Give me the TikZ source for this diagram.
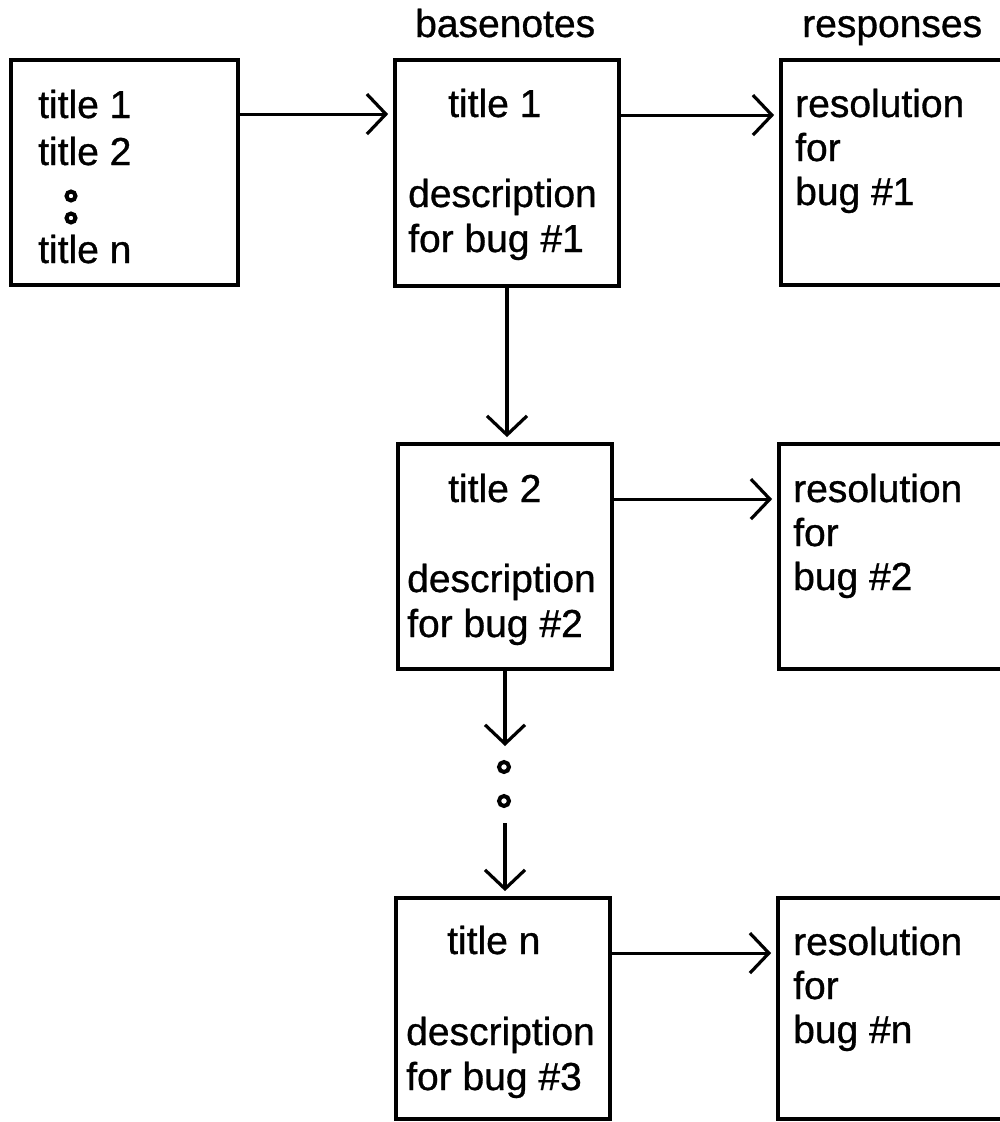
\documentclass[tikz,border=0pt]{standalone}
\usepackage{fontspec}
\setmainfont{Liberation Sans}
\newfontfamily\scanfont{Liberation Sans}[FakeBold=0.8]
\usetikzlibrary{arrows.meta}
\begin{document}
\begin{tikzpicture}[x=1pt,y=-1pt,
  box/.style={draw,line width=3.8pt,rectangle,inner sep=0pt},
  txt/.style={anchor=base west,inner sep=0pt,font=\scanfont\fontsize{39}{45}\selectfont},
  arr/.style={line width=3.2pt,-{Straight Barb[length=19pt,width=40pt]},shorten >=5pt},
  ring/.style={draw,circle,line width=4pt,minimum size=10pt,inner sep=0pt}]
\useasboundingbox (0,0) rectangle (1000,1122);
\clip (0,0) rectangle (1000,1122);
\fill[white] (0,0) rectangle (1000,1122);

% boxes
\node[box,minimum width=227pt,minimum height=225pt] (L)  at (124.5,172.5) {};
\node[box,minimum width=224pt,minimum height=226pt] (B1) at (507,173) {};
\node[box,minimum width=259pt,minimum height=225pt] (R1) at (910.5,172.5) {};
\node[box,minimum width=214pt,minimum height=225pt] (B2) at (505,556.5) {};
\node[box,minimum width=261pt,minimum height=225pt] (R2) at (909.5,556.5) {};
\node[box,minimum width=214pt,minimum height=221pt] (B3) at (503,1008.5) {};
\node[box,minimum width=262pt,minimum height=221pt] (R3) at (909,1008.5) {};

% headers
\node[txt] (h1) at (415,37) {basenotes};
\node[txt] (h2) at (802,37) {responses};

% left box text
\node[txt] (l1) at (38,118) {title 1};
\node[txt] (l2) at (38,165) {title 2};
\node[ring,minimum size=9pt] (ld1) at (71,196) {};
\node[ring,minimum size=9pt] (ld2) at (71,218) {};
\node[txt] (l3) at (38,263) {title n};

% basenote texts
\node[txt] (b1a) at (448,117) {title 1};
\node[txt] (b1b) at (408,207) {description};
\node[txt] (b1c) at (408,252) {for bug \#1};
\node[txt] (b2a) at (448,502) {title 2};
\node[txt] (b2b) at (407,592) {description};
\node[txt] (b2c) at (407,637) {for bug \#2};
\node[txt] (b3a) at (447,954) {title n};
\node[txt] (b3b) at (406,1045) {description};
\node[txt] (b3c) at (406,1090) {for bug \#3};

% response texts
\node[txt] (r1a) at (795,117) {resolution};
\node[txt] (r1b) at (795,161) {for};
\node[txt] (r1c) at (795,205) {bug \#1};
\node[txt] (r2a) at (793,502) {resolution};
\node[txt] (r2b) at (793,546) {for};
\node[txt] (r2c) at (793,590) {bug \#2};
\node[txt] (r3a) at (793,955) {resolution};
\node[txt] (r3b) at (793,999) {for};
\node[txt] (r3c) at (793,1043) {bug \#n};

% dots between B2 and B3
\coordinate (d1) at (505,746);
\node[ring] (c1) at (504,767) {};
\node[ring] (c2) at (504,801) {};
\coordinate (d2) at (505,823);

% connectors
\draw[arr] ([yshift=-56pt]L.north east) -- ([yshift=-56pt]B1.north west);
\draw[arr] ([yshift=-57pt]B1.north east) -- ([yshift=-57pt]R1.north west);
\draw[arr] ([yshift=-57pt]B2.north east) -- ([yshift=-57pt]R2.north west);
\draw[arr] ([yshift=-57pt]B3.north east) -- ([yshift=-57pt]R3.north west);
\draw[arr] (B1.south) -- (B1.south |- B2.north);
\draw[arr,shorten >=0pt] (B2.south) -- (d1);
\draw[arr] (d2) -- (d2 |- B3.north);
\end{tikzpicture}
\end{document}
